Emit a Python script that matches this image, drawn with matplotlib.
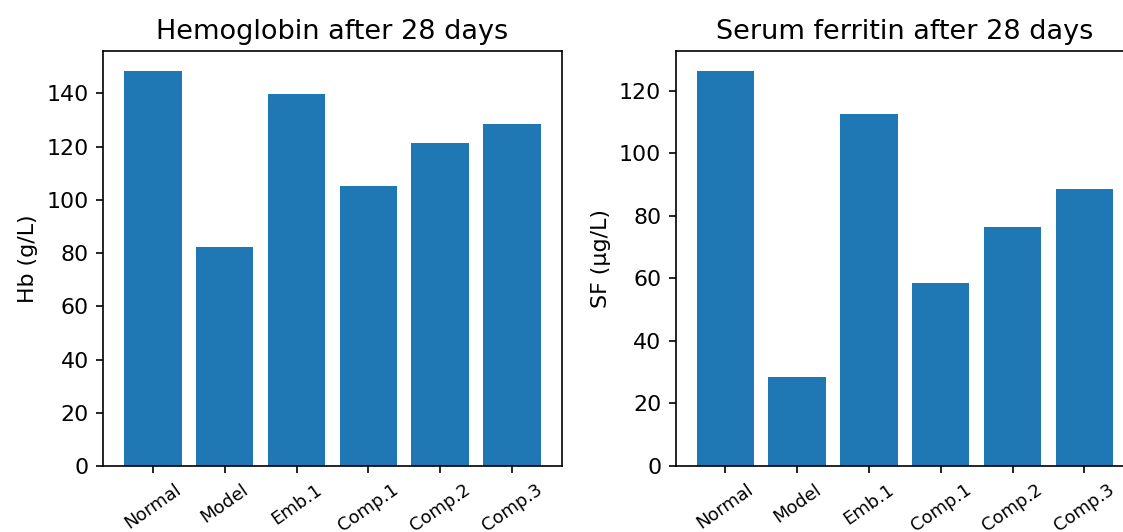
import matplotlib
matplotlib.use("Agg")
import matplotlib.pyplot as plt


grupos = ["Normal", "Model", "Emb.1", "Comp.1", "Comp.2", "Comp.3"]

hb_valores = [148.5, 82.2, 139.7, 105.3, 121.2, 128.4]
sf_valores = [126.3, 28.4, 112.6, 58.6, 76.4, 88.4]


def dibujar_barras(ax, valores, titulo, etiqueta_y):

    ax.bar(grupos, valores, color="#1f77b4")

    ax.set_title(titulo, fontsize=13)
    ax.set_ylabel(etiqueta_y, fontsize=10.6)

    ax.tick_params(axis="y", labelsize=10.6)
    ax.tick_params(axis="x", labelsize=8.6, labelrotation=35)


def main():

    fig = plt.figure(figsize=(1123 / 150, 532 / 150), dpi=150)

    # el panel derecho queda cortado por el borde, como en la figura original
    ax1 = fig.add_axes([0.092, 0.124, 0.408, 0.780])
    ax2 = fig.add_axes([0.6017, 0.124, 0.408, 0.780])

    dibujar_barras(ax1, hb_valores, "Hemoglobin after 28 days", "Hb (g/L)")
    dibujar_barras(ax2, sf_valores, "Serum ferritin after 28 days", "SF (\u00b5g/L)")

    fig.savefig("out.png", dpi=150)
    plt.close(fig)


if __name__ == "__main__":
    main()
